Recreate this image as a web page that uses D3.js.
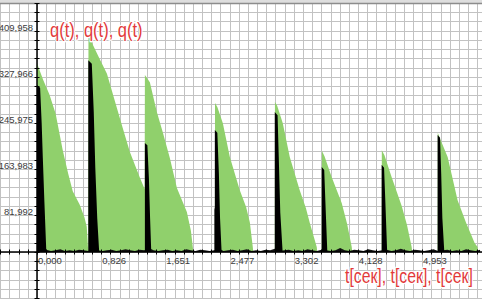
<!DOCTYPE html>
<html>
<head>
<meta charset="utf-8">
<script src="https://cdnjs.cloudflare.com/ajax/libs/d3/7.8.5/d3.min.js"></script>
<style>
  html, body { margin: 0; padding: 0; background: #fff; }
  svg { display: block; }
  .tick-label { font-family: "Liberation Sans", Arial, sans-serif; font-size: 9.5px; fill: #3c3c3c; }
  .axis-title { font-family: "Liberation Sans", Arial, sans-serif; fill: #e23a3a; stroke: #fff; stroke-width: 2px; paint-order: stroke; }
</style>
</head>
<body>
<svg id="chart"></svg>
<script>
'use strict';

// tick values and their labels (comma decimals as in the original)
var xTicks = [0, 0.826, 1.651, 2.477, 3.302, 4.128, 4.953];
var xTickLabels = ['0,000', '0,826', '1,651', '2,477', '3,302', '4,128', '4,953'];
var yTicks = [81.992, 163.983, 245.975, 327.966, 409.958];
var yTickLabels = ['81,992', '163,983', '245,975', '327,966', '409,958'];

// green series q(t): [t, q]
var greenSeries = [
  [0.000, 0], [0.000, 336], [0.020, 328], [0.080, 306], [0.160, 280], [0.240, 246], [0.330, 182],
  [0.400, 140], [0.460, 108], [0.550, 84], [0.610, 62], [0.640, 45], [0.655, 10], [0.660, 0],
  [0.662, 386], [0.720, 368], [0.800, 345], [0.900, 317], [1.028, 256], [1.100, 222], [1.195, 178],
  [1.324, 132], [1.385, 112],
  [1.388, 315], [1.452, 302], [1.542, 249], [1.620, 212], [1.709, 167], [1.800, 114], [1.928, 71],
  [1.980, 38], [2.005, 8], [2.010, 0],
  [2.288, 0], [2.290, 265], [2.320, 258], [2.391, 229], [2.481, 169], [2.609, 110], [2.690, 80],
  [2.738, 53], [2.776, 9], [2.782, 0],
  [3.059, 0], [3.061, 267], [3.090, 260], [3.162, 229], [3.252, 169], [3.380, 110], [3.460, 78],
  [3.509, 52], [3.599, 9], [3.605, 0],
  [3.663, 0], [3.665, 180], [3.700, 170], [3.792, 133], [3.920, 87], [3.990, 50], [4.049, 9], [4.055, 0],
  [4.434, 0], [4.436, 181], [4.470, 172], [4.563, 133], [4.692, 82], [4.760, 48], [4.820, 9], [4.826, 0],
  [5.154, 0], [5.156, 212], [5.190, 200], [5.283, 169], [5.411, 92], [5.520, 52], [5.630, 16],
  [5.668, 9], [5.675, 0]
];

// black series q(t): narrow spikes at the start of each pulse
var blackSeries = [
  [0.000, 0], [0.000, 297], [0.040, 292], [0.060, 230], [0.075, 167], [0.095, 90], [0.120, 0],
  [0.660, 0], [0.660, 341], [0.705, 335], [0.730, 250], [0.750, 150], [0.775, 60], [0.800, 0],
  [1.388, 0], [1.388, 194], [1.420, 190], [1.440, 130], [1.455, 60], [1.470, 0],
  [2.282, 0], [2.282, 75], [2.288, 80], [2.288, 217], [2.320, 212], [2.340, 140], [2.355, 60], [2.375, 0],
  [3.059, 0], [3.059, 249], [3.095, 243], [3.110, 170], [3.130, 70], [3.160, 0],
  [3.663, 0], [3.663, 151], [3.695, 146], [3.710, 90], [3.735, 0],
  [4.434, 0], [4.434, 155], [4.465, 150], [4.480, 95], [4.505, 0],
  [5.154, 0], [5.154, 208], [5.185, 203], [5.200, 140], [5.215, 60], [5.240, 0]
];

// small black ripple along the baseline, one value every 0.06 s from t = 0
var noiseStep = 0.06;
var baselineNoise = [3, 2, 4, 2, 3, 5, 2, 3, 2, 4, 3, 2, 6, 3, 2, 3, 4, 2, 3, 5, 3, 2, 4, 3, 7, 3, 2, 3, 4, 2,
  3, 2, 5, 3, 2, 4, 3, 2, 3, 6, 2, 3, 4, 2, 3, 5, 2, 3, 2, 4, 3, 6, 2, 3, 4, 2, 3, 2, 5, 3, 2, 4, 3, 2, 3, 7,
  3, 2, 4, 3, 2, 5, 3, 2, 3, 4, 2, 3, 6, 3, 2, 4, 3, 2, 3, 5, 2, 3, 4, 2, 3, 2, 5, 3, 2, 4];

var width = 482,
    height = 299,
    svg = d3.select('#chart').attr('width', width).attr('height', height);

var x = d3.scaleLinear().domain([0, 4.953]).range([37, 422]),
    y = d3.scaleLinear().domain([0, 409.958]).range([252, 21.5]);

var xStep = xTicks[1] / 7,
    yStep = yTicks[0] / 5,
    xGrid = d3.range(Math.ceil(x.invert(0) / xStep), Math.floor(x.invert(width) / xStep) + 1).map(function(k) { return k * xStep; }),
    yGrid = d3.range(Math.ceil(y.invert(height) / yStep), Math.floor(y.invert(3) / yStep) + 1).map(function(k) { return k * yStep; });

svg.append('rect').attr('width', width).attr('height', height).attr('fill', '#fff');

// grid
svg.append('g').selectAll('line')
  .data(xGrid)
  .enter().append('line')
  .attr('x1', function(d) { return Math.round(x(d)) + 0.5; })
  .attr('x2', function(d) { return Math.round(x(d)) + 0.5; })
  .attr('y1', 3).attr('y2', height)
  .attr('stroke', '#c2c2c2').attr('stroke-width', 1);

svg.append('g').selectAll('line')
  .data(yGrid)
  .enter().append('line')
  .attr('y1', function(d) { return Math.round(y(d)) + 0.5; })
  .attr('y2', function(d) { return Math.round(y(d)) + 0.5; })
  .attr('x1', 0).attr('x2', width)
  .attr('stroke', '#c2c2c2').attr('stroke-width', 1);

// top frame
svg.append('rect').attr('x', 0).attr('y', 0).attr('width', width).attr('height', 3).attr('fill', '#dedede');
svg.append('line').attr('x1', 0).attr('x2', width).attr('y1', 3.5).attr('y2', 3.5)
  .attr('stroke', '#8c8c8c').attr('stroke-width', 1.5);

var area = d3.area()
  .x(function(d) { return x(d[0]); })
  .y0(y(0))
  .y1(function(d) { return y(d[1]); });

svg.append('path')
  .datum(greenSeries)
  .attr('d', area)
  .attr('fill', '#90d06c');

svg.append('path')
  .datum(baselineNoise.map(function(v, i) { return [i * noiseStep, v]; }))
  .attr('d', area)
  .attr('fill', '#111');

svg.append('path')
  .datum(blackSeries)
  .attr('d', area)
  .attr('fill', '#000');

// axes through the origin
svg.append('line')
  .attr('x1', 0).attr('x2', width)
  .attr('y1', y(0)).attr('y2', y(0))
  .attr('stroke', '#000').attr('stroke-width', 1.5);
svg.append('line')
  .attr('x1', x(0)).attr('x2', x(0))
  .attr('y1', 3).attr('y2', height)
  .attr('stroke', '#000').attr('stroke-width', 1.5);

// minor tick marks on the axes
svg.append('g').selectAll('line')
  .data(xGrid)
  .enter().append('line')
  .attr('x1', function(d) { return Math.round(x(d)) + 0.5; })
  .attr('x2', function(d) { return Math.round(x(d)) + 0.5; })
  .attr('y1', y(0) - 2.5).attr('y2', y(0) + 2.5)
  .attr('stroke', '#000').attr('stroke-width', 1);
svg.append('g').selectAll('line')
  .data(yGrid)
  .enter().append('line')
  .attr('y1', function(d) { return Math.round(y(d)) + 0.5; })
  .attr('y2', function(d) { return Math.round(y(d)) + 0.5; })
  .attr('x1', x(0) - 2.5).attr('x2', x(0) + 2.5)
  .attr('stroke', '#000').attr('stroke-width', 1);

// tick labels
svg.append('g').selectAll('text')
  .data(xTicks)
  .enter().append('text')
  .attr('class', 'tick-label')
  .attr('x', function(d) { return x(d) + 1; })
  .attr('y', y(0) + 12)
  .text(function(d, i) { return xTickLabels[i]; });

svg.append('g').selectAll('text')
  .data(yTicks)
  .enter().append('text')
  .attr('class', 'tick-label')
  .attr('text-anchor', 'end')
  .attr('x', x(0) - 4)
  .attr('y', function(d) { return y(d) + 9; })
  .text(function(d, i) { return yTickLabels[i]; });

// axis titles (glyphs are drawn a bit taller than wide, as in the original)
svg.append('text')
  .attr('class', 'axis-title')
  .attr('transform', 'translate(50,37) scale(1,1.2)')
  .attr('font-size', 16.5)
  .text('q(t), q(t), q(t)');

svg.append('text')
  .attr('class', 'axis-title')
  .attr('transform', 'translate(345,283) scale(1,1.25)')
  .attr('font-size', 15.8)
  .text('t[сек], t[сек], t[сек]');
</script>
</body>
</html>
